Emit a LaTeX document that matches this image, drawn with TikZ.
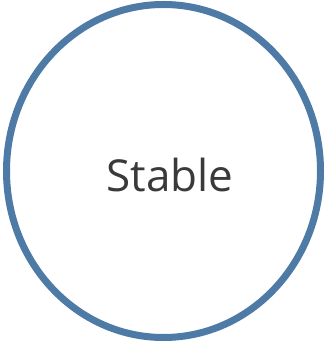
\documentclass[tikz,border=0pt]{standalone}
\usepackage{fontspec}
\setmainfont{Open Sans}
\usetikzlibrary{shapes.geometric}
\definecolor{ringblue}{HTML}{4E7AA6}
\definecolor{labelgray}{HTML}{3A3A3A}
\tikzset{
  ring/.style={ellipse,draw=ringblue,line width=7pt,minimum width=314pt,minimum height=333pt,inner sep=0pt},
  lbl/.style={font=\fontsize{44}{48}\selectfont,text=labelgray,inner sep=0pt},
}

\begin{document}
\begin{tikzpicture}[x=1pt,y=1pt]
\useasboundingbox (0,0) rectangle (327,342);
\node[ring] (stable) at (163.5,171) {};
\node[lbl] (stabletxt) at (170,167) {Stable};
\end{tikzpicture}
\end{document}
